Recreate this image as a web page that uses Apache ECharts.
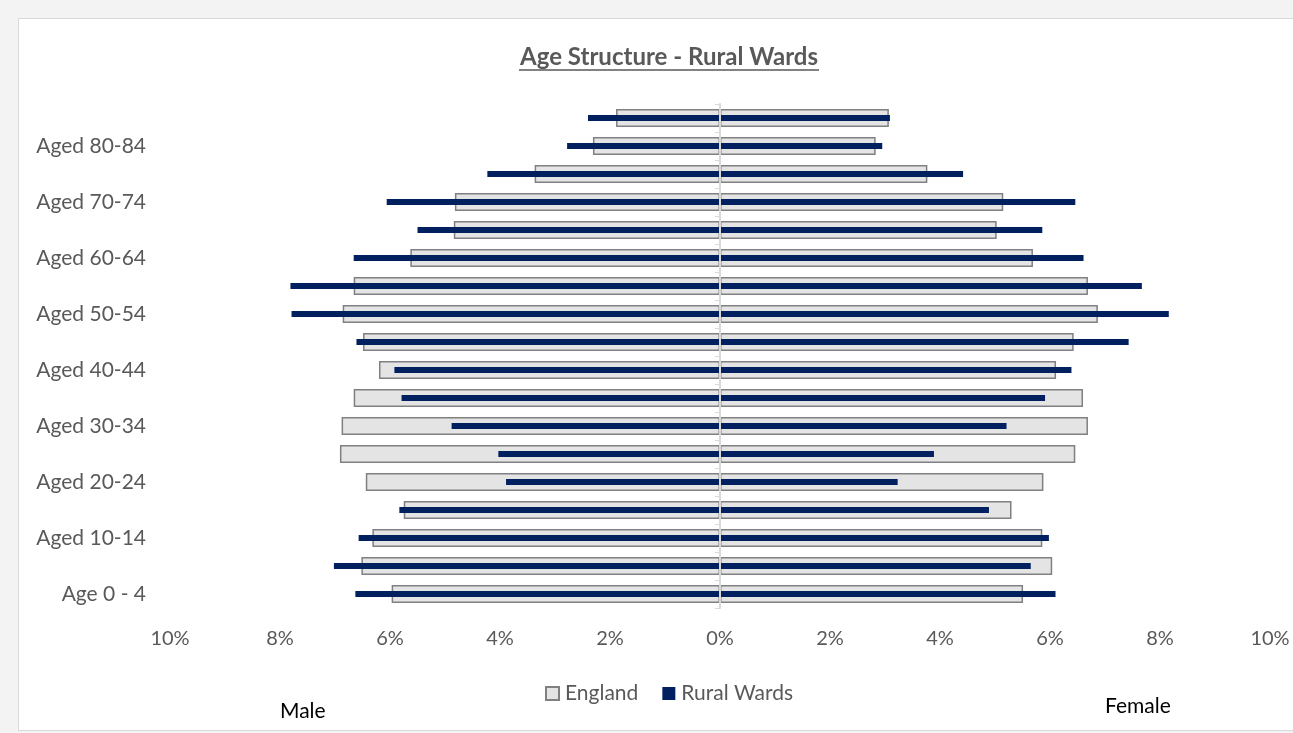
<!DOCTYPE html>
<html>
<head>
<meta charset="utf-8">
<script src="https://cdn.jsdelivr.net/npm/echarts@6/dist/echarts.min.js"></script>
<style>
    html, body { margin: 0; padding: 0; background: #f3f3f3; }
    #frame {
        position: absolute; left: 18px; top: 18px;
        width: 1290px; height: 711px;
        background: #ffffff; border: 1px solid #d9d9d9;
    }
    #chart { position: absolute; left: 0; top: 0; width: 1293px; height: 733px; }
</style>
</head>
<body>
<div id="frame"></div>
<div id="chart"></div>
<script>
// Age bands, youngest first (bottom of the chart)
const ageGroups = [
    'Age 0 - 4', 'Aged 5-9', 'Aged 10-14', 'Aged 15-19', 'Aged 20-24', 'Aged 25-29',
    'Aged 30-34', 'Aged 35-39', 'Aged 40-44', 'Aged 45-49', 'Aged 50-54', 'Aged 55-59',
    'Aged 60-64', 'Aged 65-69', 'Aged 70-74', 'Aged 75-79', 'Aged 80-84', 'Aged 85+'
];

// % of population
const englandMale   = [5.97, 6.52, 6.32, 5.75, 6.44, 6.91, 6.88, 6.66, 6.20, 6.49, 6.86, 6.66, 5.63, 4.84, 4.82, 3.37, 2.31, 1.89];
const englandFemale = [5.51, 6.04, 5.86, 5.30, 5.88, 6.46, 6.69, 6.60, 6.11, 6.43, 6.87, 6.69, 5.69, 5.03, 5.15, 3.77, 2.83, 3.07];
const ruralMale     = [6.63, 7.02, 6.57, 5.83, 3.89, 4.03, 4.88, 5.79, 5.92, 6.61, 7.79, 7.81, 6.66, 5.50, 6.06, 4.23, 2.78, 2.40];
const ruralFemale   = [6.10, 5.65, 5.98, 4.89, 3.23, 3.89, 5.21, 5.91, 6.39, 7.43, 8.16, 7.67, 6.61, 5.86, 6.46, 4.42, 2.95, 3.09];

const xTicks = { min: -10, max: 10, step: 2 };

const font = 'Lato, "Open Sans", sans-serif';
const grey = '#595959';
const navy = '#002060';

let myChart = echarts.init(document.getElementById('chart'), null, { renderer: 'canvas' });

const englandStyle = { color: '#e4e4e4', borderColor: '#808080', borderWidth: 1.5 };
const ruralStyle = { color: navy };

let option = {
    backgroundColor: 'transparent',
    animation: false,
    legend: {
        data: ['England', 'Rural Wards'],
        icon: 'rect',
        left: 540,
        top: 678,
        itemWidth: 13,
        itemHeight: 13,
        itemGap: 24,
        textStyle: { fontFamily: font, fontSize: 21, color: grey, padding: [0, 0, 0, 1] }
    },
    grid: { left: 170, right: 23, top: 104, bottom: 125 },
    xAxis: {
        type: 'value',
        min: xTicks.min,
        max: xTicks.max,
        interval: xTicks.step,
        axisLine: { show: false },
        axisTick: { show: false },
        splitLine: { show: false },
        axisLabel: {
            margin: 21,
            fontFamily: font,
            fontSize: 20,
            color: grey,
            formatter: v => Math.abs(v) + '%'
        }
    },
    yAxis: [
        {
            type: 'category',
            data: ageGroups,
            axisLine: { show: false },
            axisTick: { show: false },
            axisLabel: { interval: 1, margin: 24, fontFamily: font, fontSize: 21, color: grey }
        },
        {
            type: 'category',
            data: ageGroups,
            position: 'left',
            z: 5,
            axisLine: { show: true, onZero: true, onZeroAxisIndex: 0, lineStyle: { color: '#d9d9d9', width: 2 } },
            axisTick: { show: true, interval: 0, length: 5, lineStyle: { color: '#d9d9d9' } },
            axisLabel: { show: false }
        }
    ],
    series: [
        {
            name: 'England', type: 'bar', stack: 'eng', yAxisIndex: 0, barWidth: 18,
            itemStyle: englandStyle,
            data: englandMale.map(v => -v)
        },
        {
            name: 'England', type: 'bar', stack: 'eng', yAxisIndex: 0, barWidth: 18,
            itemStyle: englandStyle,
            data: englandFemale
        },
        {
            name: 'Rural Wards', type: 'bar', stack: 'rur', yAxisIndex: 1, barWidth: 6,
            itemStyle: ruralStyle,
            data: ruralMale.map(v => -v)
        },
        {
            name: 'Rural Wards', type: 'bar', stack: 'rur', yAxisIndex: 1, barWidth: 6,
            itemStyle: ruralStyle,
            data: ruralFemale
        }
    ],
    graphic: [
        {
            type: 'text', x: 669, y: 57,
            style: {
                text: 'Age Structure - Rural Wards', font: 'bold 24px ' + font, fill: grey,
                align: 'center', verticalAlign: 'middle'
            }
        },
        // title underline
        { type: 'line', shape: { x1: 519, y1: 70, x2: 819, y2: 70 }, style: { stroke: grey, lineWidth: 1.5 } },
        { type: 'text', x: 280, y: 711, style: { text: 'Male', font: '21px ' + font, fill: '#000', verticalAlign: 'middle' } },
        { type: 'text', x: 1105, y: 706, style: { text: 'Female', font: '21px ' + font, fill: '#000', verticalAlign: 'middle' } }
    ]
};

if (option && typeof option === 'object') {
    myChart.setOption(option, true);
}
</script>
</body>
</html>
